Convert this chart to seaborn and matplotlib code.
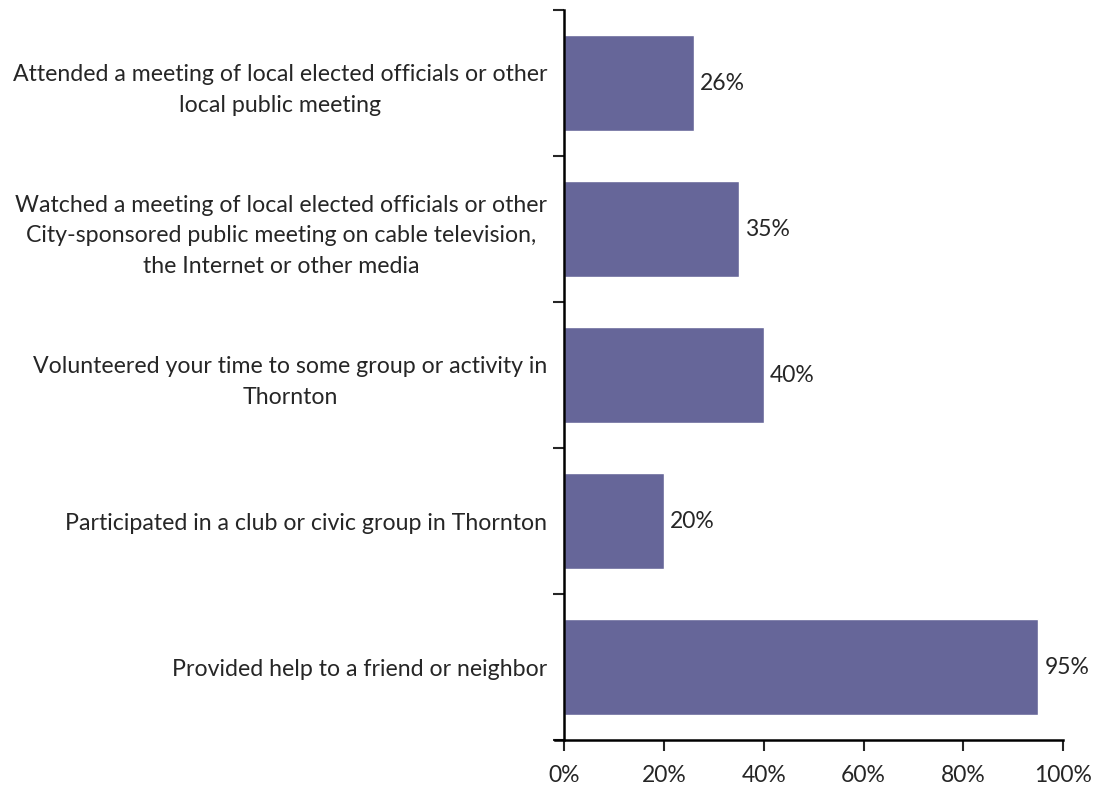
import numpy as np
import pandas as pd
import matplotlib
matplotlib.use("Agg")
import matplotlib.pyplot as plt
import seaborn as sns
from matplotlib.ticker import FuncFormatter

# DATA

categories = [
    "Attended a meeting of local elected officials or other\nlocal public meeting",
    "Watched a meeting of local elected officials or other\nCity-sponsored public meeting on cable television,\nthe Internet or other media",
    "Volunteered your time to some group or activity in\nThornton",
    "Participated in a club or civic group in Thornton",
    "Provided help to a friend or neighbor",
]
values = [26, 35, 40, 20, 95]
x_ticks = [0, 20, 40, 60, 80, 100]

df = pd.DataFrame({"activity": categories, "percent": values})

# PLOT

sns.set_style("white")
plt.rcParams["font.family"] = ["Lato", "DejaVu Sans"]

fig = plt.figure(figsize=(10.96, 7.89), dpi=100)
ax = fig.add_axes([0.5146, 0.062, 0.4555, 0.925])

sns.barplot(
    data=df,
    y="activity",
    x="percent",
    orient="h",
    color="#666699",
    saturation=1,
    width=0.66,
    ax=ax,
)

for i, v in enumerate(values):
    ax.text(v + 1.2, i, f"{v}%", va="center", ha="left", fontsize=16.5)

ax.set_xlim(0, 100)
ax.set_ylim(len(categories) - 0.5, -0.5)
ax.set_xticks(x_ticks)
ax.xaxis.set_major_formatter(FuncFormatter(lambda x, _: f"{x:.0f}%"))
ax.set_xlabel("")
ax.set_ylabel("")

# category boundary ticks on the y axis
ax.set_yticks(np.arange(-0.5, len(categories), 1.0), minor=True)
ax.tick_params(axis="y", which="major", length=0, pad=12, labelsize=16.7)
ax.tick_params(axis="y", which="minor", length=8, width=1.5, direction="out", left=True)
ax.tick_params(axis="x", which="major", length=8, width=1.5, direction="out",
               bottom=True, labelsize=16.5, pad=10)
for lbl in ax.get_yticklabels():
    lbl.set_multialignment("center")
    lbl.set_linespacing(1.55)

for side in ["top", "right"]:
    ax.spines[side].set_visible(False)
for side in ["left", "bottom"]:
    ax.spines[side].set_color("black")
    ax.spines[side].set_linewidth(1.8)
ax.spines["bottom"].set_bounds(-1.8, 100)

fig.savefig("out.png", dpi=100)
